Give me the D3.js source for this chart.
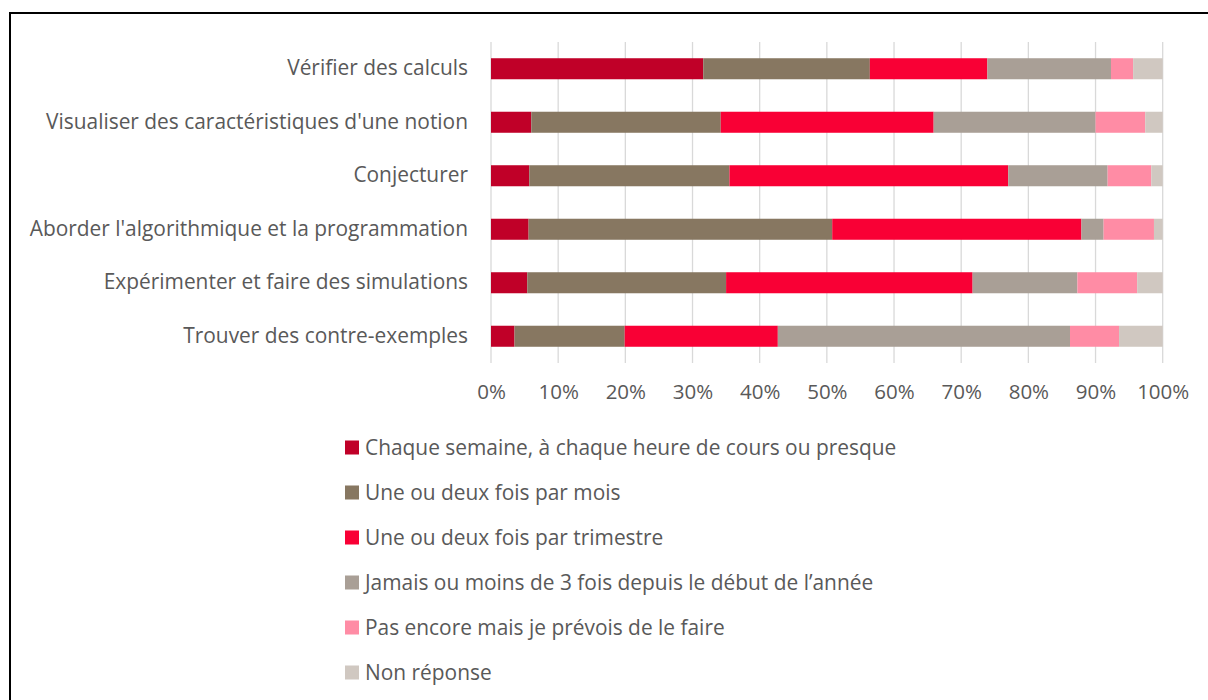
<!DOCTYPE html>
<html><head><meta charset="utf-8">
<script src="https://cdn.jsdelivr.net/npm/d3@7"></script>
<style>
html,body{margin:0;padding:0;background:#fff;}
svg{display:block;}
text{font-family:"Open Sans",Lato,sans-serif;fill:#595959;}
</style></head>
<body>
<svg id="chart" width="1208" height="700"></svg>
<script>
const categories = [
  "Vérifier des calculs",
  "Visualiser des caractéristiques d'une notion",
  "Conjecturer",
  "Aborder l'algorithmique et la programmation",
  "Expérimenter et faire des simulations",
  "Trouver des contre-exemples"
];
const seriesNames = [
  "Chaque semaine, à chaque heure de cours ou presque",
  "Une ou deux fois par mois",
  "Une ou deux fois par trimestre",
  "Jamais ou moins de 3 fois depuis le début de l’année",
  "Pas encore mais je prévois de le faire",
  "Non réponse"
];
const chaqueSemaine = [31.6, 6.0, 5.7, 5.6, 5.4, 3.5];
const parMois       = [24.8, 28.2, 29.8, 45.2, 29.6, 16.4];
const parTrimestre  = [17.5, 31.7, 41.5, 37.1, 36.7, 22.8];
const jamais        = [18.4, 24.1, 14.8, 3.3, 15.6, 43.5];
const pasEncore     = [3.3, 7.4, 6.5, 7.5, 8.9, 7.3];
const nonReponse    = [4.4, 2.6, 1.7, 1.3, 3.8, 6.5];
const tickValues = [0,10,20,30,40,50,60,70,80,90,100];
const colors = ["#C00028","#877761","#F90035","#A99F96","#FF8CA5","#D0C8C1"];

const seriesValues = [chaqueSemaine, parMois, parTrimestre, jamais, pasEncore, nonReponse];
const rows = categories.map((c,i)=>{
  const o = {cat:c};
  seriesNames.forEach((s,j)=>{ o[s] = seriesValues[j][i]; });
  return o;
});
const stacked = d3.stack().keys(seriesNames)(rows);

const FS = 20.9;
const FF = "'Open Sans',Lato,sans-serif";
const svg = d3.select("#chart");
// outer frame
svg.append("rect").attr("x",10).attr("y",13).attr("width",1230).attr("height",720)
  .attr("fill","none").attr("stroke","#000").attr("stroke-width",2);

const x = d3.scaleLinear().domain([0,100]).range([491,1162.7]);
const y = d3.scaleBand().domain(categories).range([42,363]).paddingInner(0.607).paddingOuter(0.3035);

// gridlines
svg.append("g").selectAll("line").data(tickValues).join("line")
  .attr("x1",d=>x(d)).attr("x2",d=>x(d)).attr("y1",42).attr("y2",363)
  .attr("stroke","#d9d9d9").attr("stroke-width",1.3);

// bars
svg.append("g").selectAll("g").data(stacked).join("g")
  .attr("fill",(d,i)=>colors[i])
  .selectAll("rect").data(d=>d).join("rect")
  .attr("x",d=>x(d[0])).attr("width",d=>x(d[1])-x(d[0]))
  .attr("y",d=>y(d.data.cat)).attr("height",y.bandwidth());

// x axis labels
const xAxis = d3.axisBottom(x).tickValues(tickValues).tickFormat(d=>d+"%").tickSize(0).tickPadding(0);
const xa = svg.append("g").attr("transform","translate(0,384)").call(xAxis);
xa.select(".domain").remove();
xa.selectAll("text").attr("font-size",20.5).style("font-family",FF).attr("fill","#595959");

// y axis labels
const yAxis = d3.axisLeft(y).tickSize(0).tickPadding(0);
const ya = svg.append("g").attr("transform","translate(468,0)").call(yAxis);
ya.select(".domain").remove();
ya.selectAll("text").attr("font-size",FS).style("font-family",FF).attr("fill","#595959");

// legend
const leg = svg.append("g").selectAll("g").data(seriesNames).join("g")
  .attr("transform",(d,i)=>`translate(345,${447.5+i*45})`);
leg.append("rect").attr("x",0).attr("y",-7).attr("width",14).attr("height",14).attr("fill",(d,i)=>colors[i]);
leg.append("text").attr("x",20).attr("dy","0.35em").attr("font-size",FS).style("font-family",FF).text(d=>d);
</script>
</body></html>
